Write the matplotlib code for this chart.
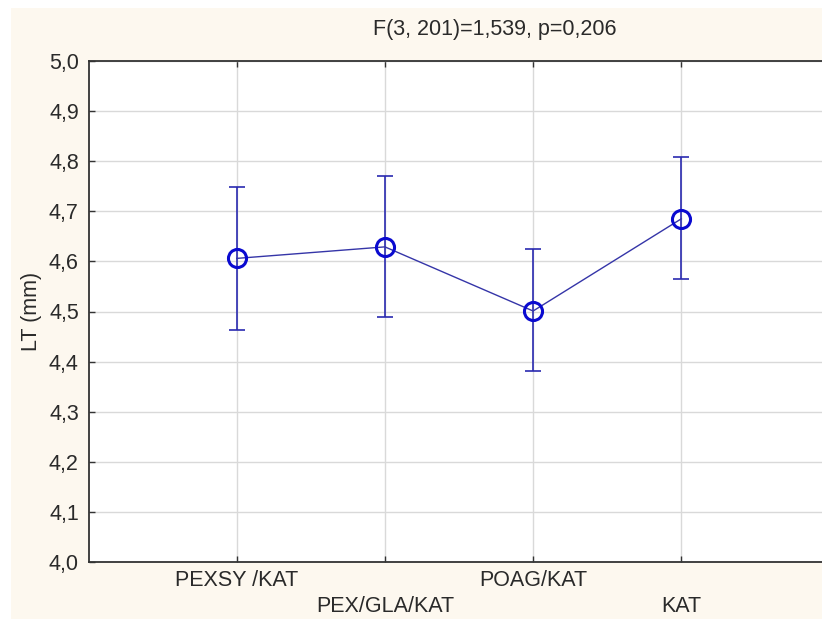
import matplotlib
matplotlib.use("Agg")
import matplotlib.pyplot as plt
from matplotlib.patches import Rectangle

categories = ["PEXSY /KAT", "PEX/GLA/KAT", "POAG/KAT", "KAT"]
means = [4.606, 4.629, 4.501, 4.685]
upper = [4.748, 4.770, 4.625, 4.808]
lower = [4.464, 4.489, 4.382, 4.565]
yticks = [4.0, 4.1, 4.2, 4.3, 4.4, 4.5, 4.6, 4.7, 4.8, 4.9, 5.0]
title = "F(3, 201)=1,539, p=0,206"

plt.rcParams['font.family'] = ['Liberation Sans', 'DejaVu Sans']

W, H = 822, 619
FS = 15.5
fig = plt.figure(figsize=(W/100, H/100), dpi=100, facecolor='white')
fig.patches.append(Rectangle((11/W, 0), 1 - 11/W, 1 - 8/H, transform=fig.transFigure,
                             facecolor='#fdf8ef', edgecolor='none', zorder=-10))

left, right, top, bottom = 88.5, 829.5, 61, 562
ax = fig.add_axes([left/W, 1 - bottom/H, (right-left)/W, (bottom-top)/H])
ax.set_facecolor('white')

x = list(range(1, len(categories) + 1))
err_lo = [m - l for m, l in zip(means, lower)]
err_hi = [u - m for m, u in zip(means, upper)]
ax.errorbar(x, means, yerr=[err_lo, err_hi], fmt='none', ecolor='#2a2ab0',
            elinewidth=1.2, capsize=6, capthick=1.2, zorder=3)
ax.plot(x, means, color='#3535a8', lw=1.0, zorder=4)
ax.plot(x, means, 'o', ms=13, mfc='none', mec='#0a0ad0', mew=2.2, zorder=5)

ax.set_xlim(0, 5)
ax.set_ylim(4.0, 5.0)
ax.set_yticks(yticks)
ax.set_yticklabels([f"{v:.1f}".replace('.', ',') for v in yticks], fontsize=FS, color='#2a2a2a')
ax.set_xticks(x)
ax.set_xticklabels([])
ax.grid(True, color='#d9d9d9', lw=1.0, zorder=0)
ax.tick_params(axis='y', direction='in', length=4, width=1, color='#333333', pad=7)
ax.tick_params(axis='x', direction='in', length=4, width=1, color='#333333',
               top=True, bottom=True)
for s in ['left', 'bottom', 'top']:
    ax.spines[s].set_color('#333333')
    ax.spines[s].set_linewidth(1.3)
ax.spines['right'].set_visible(False)

for i, lab in enumerate(categories):
    ypix = 580 if i % 2 == 0 else 607
    ax.text(x[i], -(ypix - bottom) / (bottom - top), lab, transform=ax.get_xaxis_transform(),
            ha='center', va='center', fontsize=FS, color='#2a2a2a')

ax.set_ylabel("LT (mm)", fontsize=FS, color='#2a2a2a', labelpad=5)
fig.text(495/W, 1 - 30/H, title, ha='center', va='center', fontsize=FS, color='#2a2a2a')

fig.savefig("out.png", dpi=100, facecolor='white')
